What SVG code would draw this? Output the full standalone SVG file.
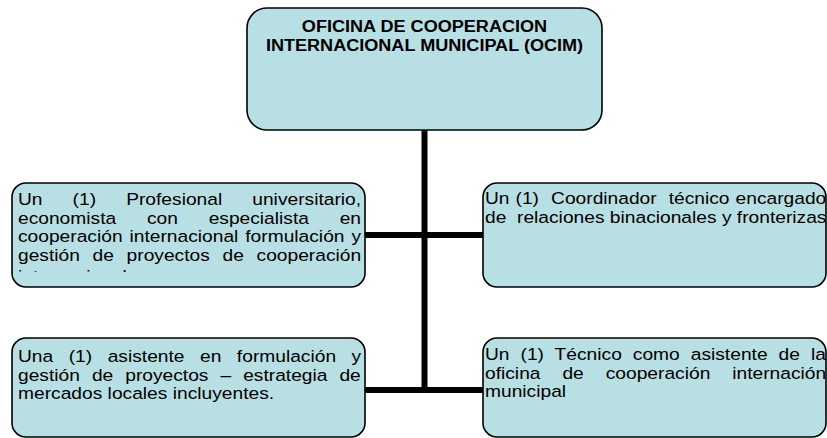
<svg xmlns="http://www.w3.org/2000/svg" width="827" height="438" viewBox="0 0 827 438">
<style>
.box{fill:#B8DFE4;stroke:#000;stroke-width:1.6}
.t{font-family:"Liberation Sans",Arial,sans-serif;font-size:17px;fill:#000;white-space:pre}
.h{font-family:"Liberation Sans",Arial,sans-serif;font-size:16px;font-weight:bold;fill:#000;text-anchor:middle}
.c{stroke:#000;stroke-width:6;fill:none}
</style>
<defs>
<clipPath id="clipL1"><rect x="12" y="183" width="353" height="89"/></clipPath>
</defs>
<g id="connectors">
<line class="c" x1="424.5" y1="130" x2="424.5" y2="393"/>
<line class="c" x1="365" y1="235" x2="483" y2="235"/>
<line class="c" x1="365" y1="390" x2="483" y2="390"/>
</g>
<g id="ocim">
<rect class="box" x="247" y="8" width="355" height="122" rx="20" ry="20"/>
<text class="h" transform="translate(424.5,32) scale(1.13,1)">OFICINA DE COOPERACION</text>
<text class="h" transform="translate(424.5,51) scale(1.13,1)">INTERNACIONAL MUNICIPAL (OCIM)</text>
</g>
<g id="profesional">
<rect class="box" x="12" y="183" width="353" height="104" rx="14" ry="14"/>
<g clip-path="url(#clipL1)">
<text class="t" transform="translate(18,205) scale(1.13,1)" word-spacing="21.9">Un (1) Profesional universitario,</text>
<text class="t" transform="translate(18,223.5) scale(1.13,1)" word-spacing="22.5">economista con especialista en</text>
<text class="t" transform="translate(18,242) scale(1.13,1)" word-spacing="1.4">cooperación internacional formulación y</text>
<text class="t" transform="translate(18,260.5) scale(1.13,1)" word-spacing="6.5">gestión de proyectos de cooperación</text>
<text class="t" transform="translate(18,281.5) scale(1.13,1)">internacional</text>
</g>
</g>
<g id="coordinador">
<rect class="box" x="483" y="183" width="343" height="104" rx="14" ry="14"/>
<text class="t" transform="translate(485,204) scale(1.13,1)" word-spacing="0.6">Un (1)  Coordinador  técnico encargado</text>
<text class="t" transform="translate(485,222.5) scale(1.13,1)">de  relaciones binacionales y fronterizas</text>
</g>
<g id="asistente">
<rect class="box" x="12" y="338" width="353" height="99" rx="14" ry="14"/>
<text class="t" transform="translate(18,362) scale(1.13,1)" word-spacing="9">Una (1) asistente en formulación y</text>
<text class="t" transform="translate(18,380.5) scale(1.13,1)" word-spacing="5.9">gestión de proyectos – estrategia de</text>
<text class="t" transform="translate(18,399) scale(1.13,1)">mercados locales incluyentes.</text>
</g>
<g id="tecnico">
<rect class="box" x="483" y="338" width="343" height="99" rx="14" ry="14"/>
<text class="t" transform="translate(485,360) scale(1.13,1)" word-spacing="5">Un (1) Técnico como asistente de la</text>
<text class="t" transform="translate(485,378.5) scale(1.13,1)" word-spacing="14.7">oficina de cooperación internación</text>
<text class="t" transform="translate(485,397) scale(1.13,1)">municipal</text>
</g>
</svg>
